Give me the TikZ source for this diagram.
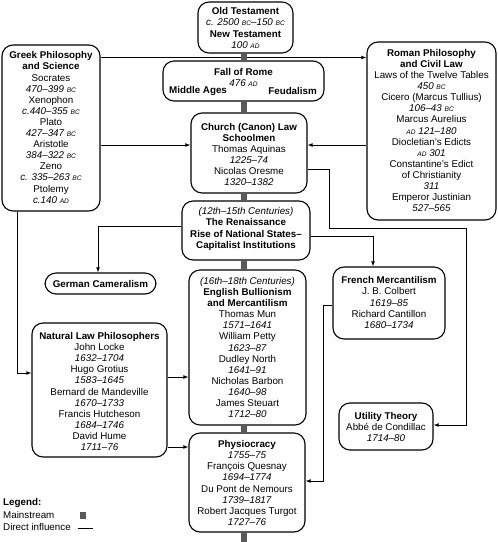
\documentclass[tikz,border=0pt]{standalone}
\usepackage{fontspec}
\setmainfont{Liberation Sans}
\usetikzlibrary{arrows.meta}
\newcommand{\era}[1]{{\fontsize{6.6}{7}\selectfont #1}}
\newcommand{\eBC}{\era{BC}}
\newcommand{\eAD}{\era{AD}}
\begin{document}
\begin{tikzpicture}[x=1pt,y=-1pt,
  box/.style={draw, line width=1.1pt, rounded corners=11pt, inner sep=0pt},
  txt/.style={align=center, inner sep=0pt, font=\fontsize{9.8}{11.1}\selectfont},
  link/.style={line width=0.9pt, -{Latex[length=5pt,width=3.8pt]}},
  mainbar/.style={line width=5.5pt, draw=black!65},
]
\useasboundingbox (0,0) rectangle (498,542);

% ---- boxes ----
\node[box, minimum width=95pt,  minimum height=51pt]  (ot)      at (245.5,27.5) {};
\node[box, minimum width=161pt, minimum height=40pt]  (rome)    at (243.5,81) {};
\node[box, minimum width=116pt, minimum height=80pt]  (church)  at (249,153) {};
\node[box, minimum width=128pt, minimum height=59pt]  (ren)     at (246,230.5) {};
\node[box, minimum width=117pt, minimum height=155pt] (english) at (247.5,347.5) {};
\node[box, minimum width=116pt, minimum height=99pt]  (physio)  at (247,482.5) {};
\node[box, minimum width=98pt,  minimum height=166pt] (greek)   at (51,128) {};
\node[box, minimum width=129pt, minimum height=178pt] (roman)   at (431.5,131) {};
\node[box, minimum width=111pt, minimum height=21pt]  (german)  at (100.5,283.5) {};
\node[box, minimum width=112pt, minimum height=72pt]  (french)  at (389,303) {};
\node[box, minimum width=135pt, minimum height=134pt] (natlaw)  at (99.5,390) {};
\node[box, minimum width=94pt,  minimum height=47pt]  (util)    at (386,426.5) {};

% ---- texts ----
\node[txt] (ot-t) at (245.5,28) {\textbf{Old Testament}\\\textit{c. 2500 \eBC–150 \eBC}\\\textbf{New Testament}\\\textit{100 \eAD}};
\node[txt] (rome-t) at (243.5,77.5) {\textbf{Fall of Rome}\\\textit{476 \eAD}};
\node[txt, anchor=west] (rome-l) at (169,91) {\textbf{Middle Ages}};
\node[txt, anchor=east] (rome-r) at (317,91) {\textbf{Feudalism}};
\node[txt] (church-t) at (249,154.5) {\textbf{Church (Canon) Law}\\\textbf{Schoolmen}\\Thomas Aquinas\\\textit{1225–74}\\Nicolas Oresme\\\textit{1320–1382}};
\node[txt] (ren-t) at (246,229) {\textit{(12th–15th Centuries)}\\\textbf{The Renaissance}\\\textbf{Rise of National States–}\\\textbf{Capitalist Institutions}};
\node[txt] (english-t) at (247.5,347.5) {\textit{(16th–18th Centuries)}\\\textbf{English Bullionism}\\\textbf{and Mercantilism}\\Thomas Mun\\\textit{1571–1641}\\William Petty\\\textit{1623–87}\\Dudley North\\\textit{1641–91}\\Nicholas Barbon\\\textit{1640–98}\\James Steuart\\\textit{1712–80}};
\node[txt] (physio-t) at (247,483) {\textbf{Physiocracy}\\\textit{1755–75}\\François Quesnay\\\textit{1694–1774}\\Du Pont de Nemours\\\textit{1739–1817}\\Robert Jacques Turgot\\\textit{1727–76}};
\node[txt] (greek-t) at (51,127.5) {\textbf{Greek Philosophy}\\\textbf{and Science}\\Socrates\\\textit{470–399 \eBC}\\Xenophon\\\textit{c.440–355 \eBC}\\Plato\\\textit{427–347 \eBC}\\Aristotle\\\textit{384–322 \eBC}\\Zeno\\\textit{c. 335–263 \eBC}\\Ptolemy\\\textit{c.140 \eAD}};
\node[txt] (roman-t) at (431.5,130.5) {\textbf{Roman Philosophy}\\\textbf{and Civil Law}\\Laws of the Twelve Tables\\\textit{450 \eBC}\\Cicero (Marcus Tullius)\\\textit{106–43 \eBC}\\Marcus Aurelius\\\textit{\eAD{} 121–180}\\Diocletian's Edicts\\\textit{\eAD{} 301}\\Constantine's Edict\\of Christianity\\\textit{311}\\Emperor Justinian\\\textit{527–565}};
\node[txt] (german-t) at (100.5,283.5) {\textbf{German Cameralism}};
\node[txt] (french-t) at (389,302.5) {\textbf{French Mercantilism}\\J. B. Colbert\\\textit{1619–85}\\Richard Cantillon\\\textit{1680–1734}};
\node[txt] (natlaw-t) at (99.5,391.5) {\textbf{Natural Law Philosophers}\\John Locke\\\textit{1632–1704}\\Hugo Grotius\\\textit{1583–1645}\\Bernard de Mandeville\\\textit{1670–1733}\\Francis Hutcheson\\\textit{1684–1746}\\David Hume\\\textit{1711–76}};
\node[txt] (util-t) at (386,427) {\textbf{Utility Theory}\\Abbé de Condillac\\\textit{1714–80}};

% ---- helper coordinates ----
\coordinate (ya) at (0,57.5);
\coordinate (yb) at (0,145);
\coordinate (yc) at (0,169);
\coordinate (cu1) at (329,228);
\coordinate (cu2) at (466,425);
\coordinate (gk) at (98,226);
\coordinate (fk) at (373,236);
\coordinate (nk) at (17,373);
\coordinate (ek) at (0,377);
\coordinate (pk) at (0,447);
\coordinate (qk1) at (323,305);
\coordinate (qk2) at (323,481);
\coordinate (barx) at (244,0);
\coordinate (bottom) at (244,542);

% ---- direct influence ----
\draw[link] (greek.east |- ya) -- (roman.west |- ya);
\draw[link] (greek.east |- yb) -- (church.west |- yb);
\draw[link] (roman.west |- yb) -- (church.east |- yb);
\draw[link] (church.east |- yc) -| (cu1) -| (cu2) -- (util.east |- cu2);
\draw[link] (ren.west |- gk) -| (german.north -| gk);
\draw[link] (ren.east |- fk) -| (french.north -| fk);
\draw[link] (greek.south -| nk) |- (natlaw.west |- nk);
\draw[link] (natlaw.east |- ek) -- (english.west |- ek);
\draw[link] (natlaw.east |- pk) -- (physio.west |- pk);
\draw[link] (french.west |- qk1) -- (qk1) -- (qk2) -- (physio.east |- qk2);

% ---- mainstream ----
\draw[mainbar] (ot.south -| barx) -- (rome.north -| barx);
\draw[mainbar] (rome.south -| barx) -- (church.north -| barx);
\draw[mainbar] (church.south -| barx) -- (ren.north -| barx);
\draw[mainbar] (ren.south -| barx) -- (english.north -| barx);
\draw[mainbar] (english.south -| barx) -- (physio.north -| barx);
\draw[mainbar] (physio.south -| barx) -- (bottom);

% ---- legend ----
\node[txt, anchor=west] (lg1) at (3,503) {\textbf{Legend:}};
\node[txt, anchor=west] (lg2) at (3,515) {Mainstream};
\node[txt, anchor=west] (lg3) at (3,527) {Direct influence};
\fill[black!65] (79.5,512) rectangle (85.5,518.5);
\draw[line width=1pt] (78,528) -- (93,528);
\end{tikzpicture}
\end{document}
